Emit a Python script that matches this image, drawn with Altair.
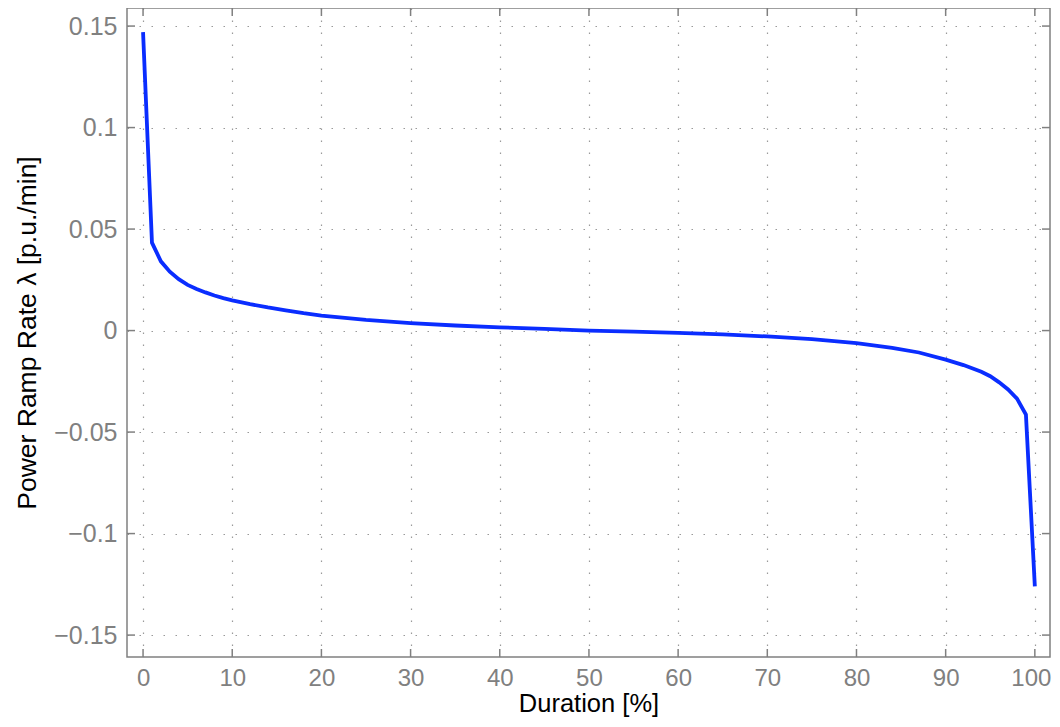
import altair as alt
import pandas as pd

duration = [0, 1, 2, 3, 4, 5, 6, 7, 8, 9, 10, 12, 14, 16, 18, 20, 25, 30, 35, 40, 45, 50,
            55, 60, 65, 70, 75, 80, 84, 87, 90, 92, 94, 95, 96, 97, 98, 99, 100]
ramp = [0.147, 0.0433, 0.0341, 0.0290, 0.0253, 0.0225, 0.0205, 0.0188, 0.0173, 0.0160,
        0.0149, 0.0130, 0.0114, 0.0100, 0.0086, 0.0074, 0.0053, 0.0037, 0.0025, 0.0016,
        0.0008, 0.0000, -0.0005, -0.0011, -0.0019, -0.0029, -0.0042, -0.0062, -0.0085,
        -0.0108, -0.0143, -0.0170, -0.0203, -0.0225, -0.0255, -0.0290, -0.0335, -0.0414,
        -0.126]
x_ticks = [0, 10, 20, 30, 40, 50, 60, 70, 80, 90, 100]
y_ticks = [-0.15, -0.1, -0.05, 0, 0.05, 0.1, 0.15]

W, H = 923, 649
FONT = "Helvetica, Liberation Sans, Arial, sans-serif"
X_TITLE = "Duration [%]"
Y_TITLE = "Power Ramp Rate λ [p.u./min]"

df = pd.DataFrame({"d": duration, "r": ramp})
xt = pd.DataFrame({"d": x_ticks})
yt = pd.DataFrame({"r": y_ticks})

xscale = alt.Scale(domain=[-1.8, 101.7], nice=False, zero=False)
yscale = alt.Scale(domain=[-0.1608, 0.1589], nice=False, zero=False)
xaxis = alt.Axis(values=x_ticks, format="d", titleBaseline="bottom", titleY=59,
                 titleFontSize=25.5, labelFontSize=24, labelPadding=9,
                 labelOffset={"condition": {"test": "datum.value == 100", "value": -4},
                              "value": 0})
yaxis = alt.Axis(values=y_ticks, format="~f")


def X():
    return alt.X("d:Q", scale=xscale, title=X_TITLE, axis=xaxis)


def Y():
    return alt.Y("r:Q", scale=yscale, title=Y_TITLE, axis=yaxis)


line = alt.Chart(df).mark_line(color="#0a2dff", strokeWidth=3.8).encode(x=X(), y=Y())

tick_color = "#808080"
xb = alt.Chart(xt).mark_rule(color=tick_color, strokeWidth=1.5).encode(
    x=X(), y=alt.value(H), y2=alt.value(H - 8))
xtop = alt.Chart(xt).mark_rule(color=tick_color, strokeWidth=1.5).encode(
    x=X(), y=alt.value(0), y2=alt.value(8))
yl = alt.Chart(yt).mark_rule(color=tick_color, strokeWidth=1.5).encode(
    y=Y(), x=alt.value(0), x2=alt.value(8))
yr = alt.Chart(yt).mark_rule(color=tick_color, strokeWidth=1.5).encode(
    y=Y(), x=alt.value(W), x2=alt.value(W - 8))

chart = alt.layer(xb, xtop, yl, yr, line).properties(
    width=W, height=H,
    autosize=alt.AutoSizeParams(type="none"),
    padding={"left": 119, "top": 0, "right": 2, "bottom": 60},
).configure_view(
    stroke="#808080", strokeWidth=1.5
).configure_axis(
    domain=False, ticks=False, grid=True,
    gridColor="#9a9a9a", gridDash=[1.5, 10.5], gridWidth=1.2,
    labelFont=FONT, labelFontSize=25, labelColor="#808080",
    titleFont=FONT, titleFontSize=26.5, titleColor="#000000", titleFontWeight="normal",
).configure_axisY(
    labelPadding=10, titlePadding=12
)

chart.save("out.html", embed_options={"renderer": "svg", "actions": False})
